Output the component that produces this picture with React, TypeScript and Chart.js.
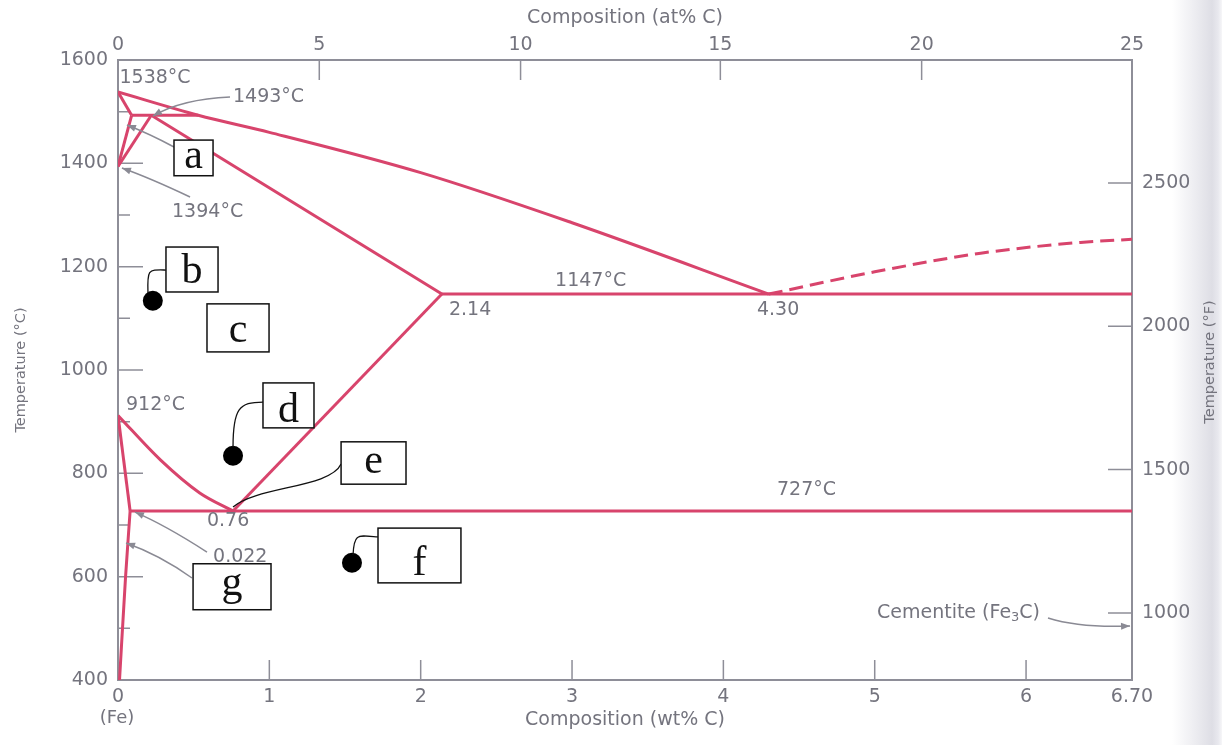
import React, { useEffect, useRef } from 'react';
import { Chart, registerables } from 'chart.js';

Chart.register(...registerables);

// ---------- Phase boundary data (wt% C, °C) ----------
const liquidusWt = [0, 0.53, 1.0, 2.0, 3.0, 4.3];
const liquidusT = [1538, 1493, 1460, 1382, 1285, 1147];
const deltaSolidusWt = [0, 0.09];
const deltaSolidusT = [1538, 1493];
const peritecticWt = [0.09, 0.53];
const peritecticT = [1493, 1493];
const deltaSolvusWt = [0.09, 0];
const deltaSolvusT = [1493, 1394];
const gammaDeltaWt = [0.22, 0];
const gammaDeltaT = [1493, 1394];
const gammaSolidusWt = [0.22, 2.14];
const gammaSolidusT = [1493, 1147];
const eutecticWt = [2.14, 6.7];
const eutecticT = [1147, 1147];
const cementiteLiqWt = [4.3, 5.0, 5.7, 6.36, 6.7];
const cementiteLiqT = [1147, 1190, 1226, 1247, 1253];
const acmWt = [0.76, 2.14];
const acmT = [727, 1147];
const a3Wt = [0, 0.28, 0.54, 0.76];
const a3T = [912, 826, 762, 727];
const alphaGammaWt = [0, 0.08];
const alphaGammaT = [912, 727];
const eutectoidWt = [0.08, 6.7];
const eutectoidT = [727, 727];
const alphaSolvusWt = [0.08, 0.05, 0.01];
const alphaSolvusT = [727, 600, 400];

// marked points (b, d, f)
const markerWt = [0.23, 0.76, 1.546];
const markerT = [1134, 834, 627];

// ---------- Axis ticks ----------
const bottomTicks = [0, 1, 2, 3, 4, 5, 6, 6.7];
const bottomLabels = ['0', '1', '2', '3', '4', '5', '6', '6.70'];
const topTickWt = [0, 1.33, 2.66, 3.98, 5.31, 6.7];
const topLabels = ['0', '5', '10', '15', '20', '25'];
const rightTicksF = [1000, 1500, 2000, 2500];

// ---------- Annotations (data coordinates) ----------
const textNotes = [
  { text: '1538°C', wt: 0.01, T: 1565 },
  { text: '1493°C', wt: 0.76, T: 1528 },
  { text: '1394°C', wt: 0.357, T: 1306 },
  { text: '912°C', wt: 0.053, T: 932 },
  { text: '1147°C', wt: 2.888, T: 1172 },
  { text: '2.14', wt: 2.187, T: 1116 },
  { text: '4.30', wt: 4.222, T: 1116 },
  { text: '727°C', wt: 4.354, T: 768 },
  { text: '0.76', wt: 0.588, T: 708 },
  { text: '0.022', wt: 0.628, T: 638 },
];

const arrowNotes = [
  { s: [0.74, 1528.4], c: [0.423, 1524.5], t: [0.231, 1491.6] },
  { s: [0.37, 1431.6], c: [0.211, 1456.8], t: [0.059, 1474.2] },
  { s: [0.476, 1334.8], c: [0.211, 1371.6], t: [0.026, 1390.9] },
  { s: [0.588, 647.7], c: [0.311, 700], t: [0.112, 725] },
  { s: [0.489, 597.4], c: [0.278, 641.9], t: [0.053, 665.2] },
  { s: [6.145, 520], c: [6.357, 500.6], t: [6.687, 504.5] },
];

const boxNotes = [
  { letter: 'a', wt0: 0.37, wt1: 0.628, Ttop: 1445, Tbot: 1376, Tbase: 1391 },
  { letter: 'b', wt0: 0.317, wt1: 0.661, Ttop: 1238, Tbot: 1151, Tbase: 1168 },
  { letter: 'c', wt0: 0.588, wt1: 0.998, Ttop: 1128, Tbot: 1035, Tbase: 1054 },
  { letter: 'd', wt0: 0.958, wt1: 1.295, Ttop: 975, Tbot: 888, Tbase: 899 },
  { letter: 'e', wt0: 1.474, wt1: 1.903, Ttop: 861, Tbot: 779, Tbase: 801 },
  { letter: 'f', wt0: 1.718, wt1: 2.266, Ttop: 694, Tbot: 588, Tbase: 603 },
  { letter: 'g', wt0: 0.496, wt1: 1.011, Ttop: 625, Tbot: 536, Tbase: 565 },
];

const connectorNotes = [
  { s: [0.198, 1149], c1: [0.192, 1196], c2: [0.2, 1194], e: [0.317, 1193.5] },
  { s: [0.76, 851], c1: [0.76, 925], c2: [0.8, 938], e: [0.958, 938] },
  { s: [0.76, 735], c1: [0.925, 775.5], c2: [1.401, 771.6], e: [1.474, 818] },
  { s: [1.553, 642], c1: [1.559, 684], c2: [1.58, 680], e: [1.718, 677] },
];

const RED = '#d8446c';
const AXIS = '#8e8e98';
const TEXT = '#74747e';
const FONT = 'DejaVu Sans';

const series = (wt: number[], T: number[]) => wt.map((w, i) => ({ x: w, y: T[i] }));
const lineDs = (wt: number[], T: number[], extra: any = {}) => ({
  type: 'scatter',
  data: series(wt, T),
  showLine: true,
  borderColor: RED,
  backgroundColor: RED,
  borderWidth: 3,
  pointRadius: 0,
  fill: false,
  ...extra,
});

const decorPlugin = {
  id: 'decor',
  beforeDraw(chart: any) {
    const { ctx, width, height } = chart;
    ctx.save();
    ctx.fillStyle = '#ffffff';
    ctx.fillRect(0, 0, width, height);
    const g = ctx.createLinearGradient(1172, 0, 1222, 0);
    g.addColorStop(0, 'rgba(225,225,232,0)');
    g.addColorStop(0.8, 'rgba(222,222,229,1)');
    g.addColorStop(0.92, 'rgba(232,232,238,1)');
    g.addColorStop(1, 'rgba(246,246,248,1)');
    ctx.fillStyle = g;
    ctx.fillRect(1172, 0, 50, height);
    ctx.restore();
  },
  beforeDatasetsDraw(chart: any) {
    const { ctx, chartArea, scales } = chart;
    const { left, right, top, bottom } = chartArea;
    ctx.save();
    ctx.strokeStyle = AXIS;
    ctx.lineWidth = 1.5;
    ctx.beginPath();
    for (const v of bottomTicks.slice(1, -1)) {
      const x = scales.x.getPixelForValue(v);
      ctx.moveTo(x, bottom);
      ctx.lineTo(x, bottom - 20);
    }
    for (const v of topTickWt.slice(1, -1)) {
      const x = scales.xTop.getPixelForValue(v);
      ctx.moveTo(x, top);
      ctx.lineTo(x, top + 20);
    }
    for (let T = 500; T <= 1500; T += 100) {
      const y = scales.y.getPixelForValue(T);
      const len = T % 200 === 0 ? 25 : 12;
      ctx.moveTo(left, y);
      ctx.lineTo(left + len, y);
    }
    for (const F of rightTicksF) {
      const y = scales.y2.getPixelForValue(F);
      ctx.moveTo(right, y);
      ctx.lineTo(right - 24, y);
    }
    ctx.stroke();
    ctx.restore();
  },
  afterDraw(chart: any) {
    const { ctx, chartArea, scales } = chart;
    const P = (wt: number, T: number) => [scales.x.getPixelForValue(wt), scales.y.getPixelForValue(T)];
    ctx.save();
    // grey texts
    ctx.fillStyle = TEXT;
    ctx.font = `19px "${FONT}"`;
    ctx.textAlign = 'left';
    ctx.textBaseline = 'middle';
    for (const n of textNotes) {
      const [x, y] = P(n.wt, n.T);
      ctx.fillText(n.text, x, y);
    }
    // Cementite (Fe3C)
    {
      const [x0, y0] = P(5.015, 529.7);
      let x = x0;
      const part1 = 'Cementite (Fe';
      ctx.fillText(part1, x, y0);
      x += ctx.measureText(part1).width;
      ctx.font = `13px "${FONT}"`;
      ctx.fillText('3', x, y0 + 5);
      x += ctx.measureText('3').width;
      ctx.font = `19px "${FONT}"`;
      ctx.fillText('C)', x, y0);
    }
    // (Fe)
    {
      const [x, y] = P(0, 326);
      ctx.textAlign = 'center';
      ctx.font = `18px "${FONT}"`;
      ctx.fillText('(Fe)', x - 1, y);
    }
    // right axis title
    {
      ctx.save();
      ctx.font = `14.5px "${FONT}"`;
      ctx.textAlign = 'center';
      ctx.textBaseline = 'middle';
      ctx.translate(scales.y2.right - 12, (chartArea.top + chartArea.bottom) / 2 - 8);
      ctx.rotate(-Math.PI / 2);
      ctx.fillText('Temperature (°F)', 0, 0);
      ctx.restore();
    }
    // grey arrows
    ctx.strokeStyle = '#8a8a94';
    ctx.fillStyle = '#8a8a94';
    ctx.lineWidth = 1.5;
    for (const a of arrowNotes) {
      const [sx, sy] = P(a.s[0], a.s[1]);
      const [cx, cy] = P(a.c[0], a.c[1]);
      const [tx, ty] = P(a.t[0], a.t[1]);
      ctx.beginPath();
      ctx.moveTo(sx, sy);
      ctx.quadraticCurveTo(cx, cy, tx, ty);
      ctx.stroke();
      const ang = Math.atan2(ty - cy, tx - cx);
      const L = 9, W = 3.5;
      ctx.beginPath();
      ctx.moveTo(tx, ty);
      ctx.lineTo(tx - L * Math.cos(ang) + W * Math.sin(ang), ty - L * Math.sin(ang) - W * Math.cos(ang));
      ctx.lineTo(tx - L * Math.cos(ang) - W * Math.sin(ang), ty - L * Math.sin(ang) + W * Math.cos(ang));
      ctx.closePath();
      ctx.fill();
    }
    // black connectors
    ctx.strokeStyle = '#111';
    ctx.lineWidth = 1.3;
    for (const c of connectorNotes) {
      const [sx, sy] = P(c.s[0], c.s[1]);
      const [ax, ay] = P(c.c1[0], c.c1[1]);
      const [bx, by] = P(c.c2[0], c.c2[1]);
      const [ex, ey] = P(c.e[0], c.e[1]);
      ctx.beginPath();
      ctx.moveTo(sx, sy);
      ctx.bezierCurveTo(ax, ay, bx, by, ex, ey);
      ctx.stroke();
    }
    // letter boxes
    for (const b of boxNotes) {
      const [x0, y0] = P(b.wt0, b.Ttop);
      const [x1, y1] = P(b.wt1, b.Tbot);
      const [, yb] = P(0, b.Tbase);
      ctx.fillStyle = '#ffffff';
      ctx.fillRect(x0, y0, x1 - x0, y1 - y0);
      ctx.strokeStyle = '#111';
      ctx.lineWidth = 1.5;
      ctx.strokeRect(x0, y0, x1 - x0, y1 - y0);
      ctx.fillStyle = '#111';
      ctx.font = `42px "Liberation Serif"`;
      ctx.textAlign = 'center';
      ctx.textBaseline = 'alphabetic';
      ctx.fillText(b.letter, (x0 + x1) / 2, yb);
    }
    ctx.restore();
  },
};

export default function App() {
  const ref = useRef<HTMLCanvasElement>(null);
  useEffect(() => {
    const canvas = ref.current;
    if (!canvas) return;
    const tickFont = { family: FONT, size: 19 };
    const baseScale = {
      grid: { display: true, drawOnChartArea: false, drawTicks: false },
      border: { display: true, color: AXIS, width: 2 },
    };
    const chart = new Chart(canvas, {
      type: 'scatter',
      data: {
        datasets: [
          lineDs(liquidusWt, liquidusT, { cubicInterpolationMode: 'monotone' }),
          lineDs(deltaSolidusWt, deltaSolidusT),
          lineDs(peritecticWt, peritecticT),
          lineDs(deltaSolvusWt, deltaSolvusT),
          lineDs(gammaDeltaWt, gammaDeltaT),
          lineDs(gammaSolidusWt, gammaSolidusT),
          lineDs(eutecticWt, eutecticT),
          lineDs(cementiteLiqWt, cementiteLiqT, { borderDash: [14, 7], cubicInterpolationMode: 'monotone' }),
          lineDs(acmWt, acmT),
          lineDs(a3Wt, a3T, { cubicInterpolationMode: 'monotone' }),
          lineDs(alphaGammaWt, alphaGammaT),
          lineDs(eutectoidWt, eutectoidT),
          lineDs(alphaSolvusWt, alphaSolvusT, { cubicInterpolationMode: 'monotone' }),
          {
            type: 'scatter',
            data: series(markerWt, markerT),
            showLine: false,
            pointRadius: 10,
            pointBackgroundColor: '#000',
            pointBorderWidth: 0,
            clip: false,
          } as any,
        ] as any,
      },
      options: {
        responsive: false,
        animation: false,
        devicePixelRatio: 1,
        events: [],
        layout: { padding: 0 },
        plugins: { legend: { display: false }, tooltip: { enabled: false }, title: { display: false } },
        scales: {
          x: {
            ...baseScale,
            type: 'linear',
            position: 'bottom',
            min: 0,
            max: 6.7,
            afterBuildTicks: (s: any) => { s.ticks = bottomTicks.map((v) => ({ value: v })); },
            afterFit: (s: any) => { s.height = 65; },
            ticks: {
              autoSkip: false,
              maxRotation: 0,
              padding: 6,
              color: TEXT,
              font: tickFont,
              callback: (_v: any, i: number) => bottomLabels[i],
            },
            title: {
              display: true,
              text: 'Composition (wt% C)',
              color: TEXT,
              font: { family: FONT, size: 19 },
              padding: { top: 0, bottom: 14 },
            },
          },
          xTop: {
            ...baseScale,
            type: 'linear',
            position: 'top',
            min: 0,
            max: 6.7,
            afterBuildTicks: (s: any) => { s.ticks = topTickWt.map((v) => ({ value: v })); },
            afterFit: (s: any) => { s.height = 60; },
            ticks: {
              autoSkip: false,
              maxRotation: 0,
              padding: 4,
              color: TEXT,
              font: tickFont,
              callback: (_v: any, i: number) => topLabels[i],
            },
            title: {
              display: true,
              text: 'Composition (at% C)',
              color: TEXT,
              font: { family: FONT, size: 19 },
              padding: { top: 7, bottom: 0 },
            },
          },
          y: {
            ...baseScale,
            type: 'linear',
            position: 'left',
            min: 400,
            max: 1600,
            afterFit: (s: any) => { s.width = 118; },
            ticks: {
              stepSize: 200,
              padding: 10,
              color: TEXT,
              font: tickFont,
              callback: (v: any) => String(v),
            },
            title: {
              display: true,
              text: 'Temperature (°C)',
              color: TEXT,
              font: { family: FONT, size: 14.5 },
              padding: { top: 13, bottom: 0 },
            },
          },
          y2: {
            ...baseScale,
            type: 'linear',
            position: 'right',
            min: 766,
            max: 2929,
            afterBuildTicks: (s: any) => { s.ticks = rightTicksF.map((v) => ({ value: v })); },
            afterFit: (s: any) => { s.width = 90; },
            ticks: {
              autoSkip: false,
              padding: 10,
              color: TEXT,
              font: tickFont,
              callback: (v: any) => String(v),
            },
          },
        },
      } as any,
      plugins: [decorPlugin as any],
    });
    return () => chart.destroy();
  }, []);
  return (
    <div style={{ position: 'absolute', left: 0, top: 0, width: 1222, height: 745 }}>
      <canvas ref={ref} width={1222} height={745} style={{ display: 'block', width: 1222, height: 745 }} />
    </div>
  );
}
